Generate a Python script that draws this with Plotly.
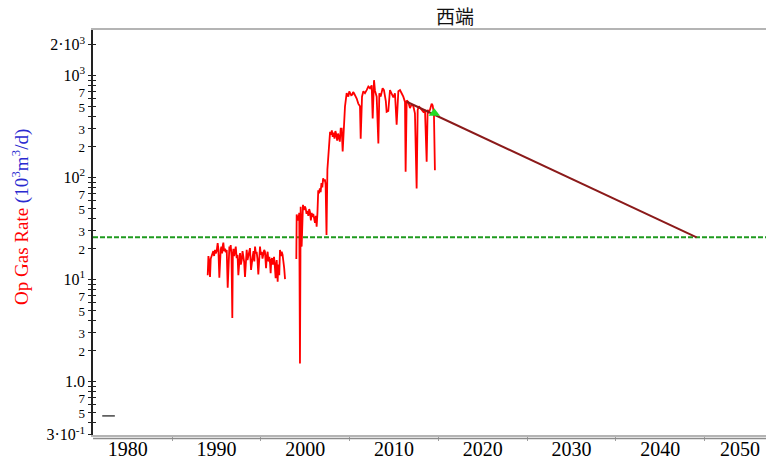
import plotly.graph_objects as go

# Gas rate history, 10^3 m3/d (None breaks the line across the 1998 shut-in)
hist_years = [
    1989.02, 1989.04, 1989.10, 1989.18, 1989.28, 1989.36, 1989.47, 1989.55, 1989.65, 1989.74,
    1989.84, 1989.93, 1990.03, 1990.14, 1990.22, 1990.33, 1990.40, 1990.48, 1990.56, 1990.64,
    1990.72, 1990.78, 1990.87, 1990.97, 1991.06, 1991.16, 1991.27, 1991.36, 1991.46, 1991.53,
    1991.61, 1991.70, 1991.79, 1991.85, 1991.91, 1992.00, 1992.09, 1992.18, 1992.28, 1992.38,
    1992.47, 1992.56, 1992.66, 1992.75, 1992.85, 1992.94, 1993.03, 1993.12, 1993.22, 1993.31,
    1993.41, 1993.50, 1993.60, 1993.69, 1993.78, 1993.90, 1993.98, 1994.08, 1994.18, 1994.27,
    1994.35, 1994.44, 1994.53, 1994.62, 1994.72, 1994.81, 1994.91, 1995.00, 1995.10, 1995.19,
    1995.28, 1995.38, 1995.47, 1995.59, 1995.68, 1995.77, 1995.86, 1995.96, 1996.04, 1996.11,
    1996.18, 1996.26, 1996.36, 1996.49, 1996.58, 1996.67, 1996.73, 1996.79, 1996.85, 1996.90,
    1996.95, 1997.01, 1997.08, 1997.16, 1997.25, 1997.35, 1997.45, 1997.54, 1997.63, 1997.73,
    None,
    1999.00, 1999.04, 1999.12, 1999.23, 1999.33, 1999.41, 1999.49, 1999.60, 1999.68, 1999.75,
    1999.85, 1999.95, 2000.05, 2000.15, 2000.25, 2000.35, 2000.45, 2000.54, 2000.64, 2000.73,
    2000.82, 2000.91, 2001.00, 2001.10, 2001.20, 2001.29, 2001.38, 2001.47, 2001.56, 2001.65,
    2001.74, 2001.83, 2001.93, 2002.02, 2002.12, 2002.22, 2002.30, 2002.40, 2002.50, 2002.60,
    2002.70, 2002.80, 2002.90, 2003.00, 2003.10, 2003.20, 2003.30, 2003.40, 2003.50, 2003.60,
    2003.70, 2003.80, 2003.90, 2004.00, 2004.11, 2004.22, 2004.37, 2004.48, 2004.67, 2004.86,
    2004.96, 2005.05, 2005.18, 2005.31, 2005.40, 2005.50, 2005.65, 2005.80, 2005.98, 2006.17,
    2006.25, 2006.40, 2006.55, 2006.73, 2006.92, 2007.11, 2007.30, 2007.49, 2007.60, 2007.75,
    2007.86, 2008.05, 2008.24, 2008.35, 2008.50, 2008.72, 2008.87, 2008.99, 2009.08, 2009.17,
    2009.36, 2009.55, 2009.74, 2009.93, 2010.11, 2010.30, 2010.49, 2010.68, 2010.86, 2011.05,
    2011.24, 2011.31, 2011.43, 2011.61, 2011.80, 2011.99, 2012.18, 2012.36, 2012.55, 2012.67,
    2012.80, 2012.93, 2013.12, 2013.30, 2013.49, 2013.68, 2013.79, 2013.92, 2014.05, 2014.24,
    2014.35, 2014.50, 2014.61,
]
hist_rates = [
    11.0, 16.5, 17.0, 15.0, 10.6, 16.0, 17.4, 18.5, 19.0, 17.0,
    19.5, 18.0, 19.0, 22.7, 20.0, 10.4, 17.0, 19.4, 21.0, 18.0,
    21.5, 23.0, 19.0, 20.0, 18.5, 19.5, 8.3, 18.0, 21.0, 19.0,
    21.7, 17.0, 4.2, 17.5, 20.0, 17.0, 18.7, 21.0, 16.2, 17.5,
    11.0, 16.0, 18.2, 14.0, 15.5, 19.0, 17.0, 15.0, 10.6, 17.0,
    19.5, 15.5, 17.4, 18.5, 20.3, 12.4, 15.0, 16.7, 19.0, 15.0,
    21.0, 18.0, 18.7, 16.0, 11.2, 17.0, 21.0, 17.5, 18.7, 16.0,
    17.4, 19.5, 18.7, 12.9, 17.0, 18.7, 15.0, 16.7, 14.5, 11.5,
    15.5, 16.2, 14.0, 16.7, 13.5, 10.3, 14.0, 15.5, 12.0, 9.5,
    13.0, 14.0, 11.0, 19.5, 17.0, 18.7, 17.5, 15.5, 13.0, 10.1,
    None,
    15.9, 43.4, 40.0, 38.0, 45.0, 1.5, 51.6, 21.0, 50.0, 54.0,
    48.0, 52.0, 50.0, 44.0, 47.0, 42.0, 49.0, 46.0, 38.0, 45.0,
    41.0, 44.0, 40.0, 36.0, 42.0, 33.0, 45.0, 75.0, 70.0, 78.0,
    72.0, 88.0, 80.0, 98.0, 92.0, 96.0, 85.0, 27.3, 120.0, 166.0,
    200.0, 280.0, 262.0, 290.0, 250.0, 275.0, 240.0, 285.0, 265.0, 230.0,
    270.0, 245.0, 225.0, 302.0, 302.0, 180.0, 315.0, 495.0, 670.0, 620.0,
    700.0, 670.0, 640.0, 650.0, 690.0, 670.0, 630.0, 595.0, 530.0, 500.0,
    240.0, 620.0, 700.0, 670.0, 720.0, 780.0, 750.0, 800.0, 380.0, 900.0,
    710.0, 620.0, 216.0, 670.0, 620.0, 750.0, 720.0, 620.0, 560.0, 440.0,
    450.0, 720.0, 650.0, 610.0, 670.0, 330.0, 700.0, 720.0, 670.0, 620.0,
    550.0, 114.0, 570.0, 550.0, 480.0, 520.0, 500.0, 425.0, 78.0, 460.0,
    500.0, 480.0, 460.0, 440.0, 460.0, 143.0, 460.0, 440.0, 460.0, 530.0,
    510.0, 425.0, 118.0,
]

# Exponential decline forecast down to the economic limit
forecast_years = [2011.43, 2044.09]
forecast_rates = [553.0, 25.9]
econ_limit = 25.9

# Forecast anchor point
anchor_year = [2014.54]
anchor_rate = [426.0]

# Short stray mark near the bottom-left corner
stub_year = [1977.85]
stub_rate = [0.46]

x_range = [1976.1, 2051.9]
y_range_log = [-0.5245, 3.446]

x_tick_years = [1980, 1990, 2000, 2010, 2020, 2030, 2040]
last_year_label = 2050          # drawn separately so it can sit inside the page edge
x_minor_years = [1985, 1995, 2005, 2015, 2025, 2035, 2045]

SMALL = "<span style='font-size:13px'>{}</span>"
y_label_vals = [2000, 1000, 700, 500, 300, 200,
                100, 70, 50, 30, 20,
                10, 7, 5, 3, 2,
                1, 0.7, 0.5, 0.3]
y_label_text = ["2·10<sup>3</sup>", "10<sup>3</sup>", SMALL.format("7"), SMALL.format("5"),
                SMALL.format("3"), SMALL.format("2"),
                "10<sup>2</sup>", SMALL.format("7"), SMALL.format("5"),
                SMALL.format("3"), SMALL.format("2"),
                "10<sup>1</sup>", SMALL.format("7"), SMALL.format("5"),
                SMALL.format("3"), SMALL.format("2"),
                "1.0", SMALL.format("7"), SMALL.format("5"), "3·10<sup>-1</sup>"]
y_minor_vals = [900, 800, 600, 400, 90, 80, 60, 40, 9, 8, 6, 4, 0.9, 0.8, 0.6, 0.4]
y_all_vals = sorted(y_label_vals + y_minor_vals)

SERIF = "Liberation Serif"

fig = go.Figure()

# Economic limit
fig.add_trace(go.Scatter(
    x=x_range, y=[econ_limit, econ_limit], mode="lines",
    line=dict(color="#1f9a1f", width=2, dash="5px,2px"), hoverinfo="skip"))

# Rate history
fig.add_trace(go.Scatter(
    x=hist_years, y=hist_rates, mode="lines", connectgaps=False,
    line=dict(color="#ff0000", width=1.8)))

# Forecast
fig.add_trace(go.Scatter(
    x=forecast_years, y=forecast_rates, mode="lines",
    line=dict(color="#8b1a1a", width=2)))

fig.add_trace(go.Scatter(
    x=anchor_year, y=anchor_rate, mode="markers",
    marker=dict(symbol="triangle-up", size=10, color="#22dd22")))

fig.add_trace(go.Scatter(
    x=stub_year, y=stub_rate, mode="markers", yaxis="y2",
    marker=dict(symbol="line-ew", size=9, line=dict(color="#444444", width=1.5))))

fig.update_layout(
    width=766, height=460,
    margin=dict(l=93, r=0, t=30, b=25),
    paper_bgcolor="white", plot_bgcolor="white",
    showlegend=False,
    font=dict(family=SERIF, color="black"),
    title=dict(text="西端", x=455 / 766, xanchor="center", xref="container",
               y=1 - 17 / 460, yanchor="middle", yref="container",
               font=dict(family="Noto Sans CJK SC", size=19, color="#111")),
    xaxis=dict(
        range=x_range, showgrid=False, zeroline=False, automargin=False,
        showline=True, linecolor="#b4b4b4", linewidth=1.5, mirror=True,
        tickmode="array", tickvals=x_tick_years, ticktext=[str(v) for v in x_tick_years],
        ticks="", ticklabelstandoff=-5,
        tickfont=dict(family=SERIF, size=20, color="black"),
        minor=dict(tickmode="array", tickvals=x_minor_years, ticks="outside",
                   ticklen=4, tickcolor="#a0a0a0", tickwidth=1),
    ),
    yaxis=dict(
        type="log", range=y_range_log, showgrid=False, zeroline=False,
        showline=True, linecolor="#222", linewidth=1.5, automargin=False,
        tickmode="array", tickvals=y_label_vals, ticktext=y_label_text,
        ticks="outside", ticklen=3, tickwidth=1, tickcolor="#222",
        tickfont=dict(family=SERIF, size=16, color="black"),
        minor=dict(tickmode="array", tickvals=y_minor_vals, ticks="outside",
                   ticklen=3, tickwidth=1, tickcolor="#222"),
    ),
    yaxis2=dict(
        type="log", range=y_range_log, overlaying="y", side="left", anchor="x",
        showgrid=False, zeroline=False, showline=False, automargin=False,
        tickmode="array", tickvals=y_all_vals, showticklabels=False,
        ticks="inside", ticklen=3, tickwidth=1, tickcolor="#222",
    ),
    shapes=[dict(type="line", xref="paper", yref="paper", x0=0, x1=1,
                 y0=-3.5 / 405, y1=-3.5 / 405, line=dict(color="#8c8c8c", width=1.5))],
    annotations=[
        dict(
            xref="paper", yref="paper", x=(21 - 93) / 673, y=(435 - 217) / 405,
            xanchor="center", yanchor="middle", textangle=-90, showarrow=False,
            text="<span style='color:#ff0000'>Op Gas Rate</span> "
                 "<span style='color:#2a2ad0'>(10<sup>3</sup>m<sup>3</sup>/d)</span>",
            font=dict(family=SERIF, size=19),
        ),
        dict(
            xref="x", yref="paper", x=last_year_label, y=0, xshift=-9, yshift=-1,
            xanchor="center", yanchor="top", showarrow=False,
            text=str(last_year_label), font=dict(family=SERIF, size=20, color="black"),
        ),
    ],
)

fig.write_html("out.html")
